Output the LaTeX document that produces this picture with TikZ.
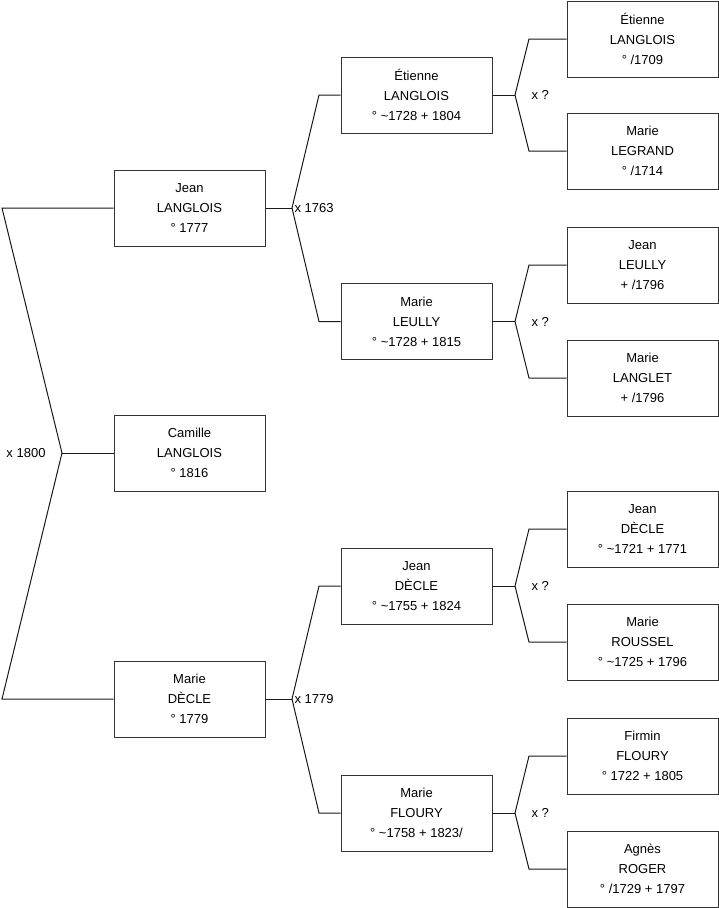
\documentclass[tikz,border=0pt]{standalone}
\usepackage{fontspec}
\setmainfont{Liberation Sans}

\begin{document}
\begin{tikzpicture}[x=1pt, y=-1pt, line width=1pt, line join=miter,
  person/.style={draw=black!80, minimum width=151pt, minimum height=76pt, inner sep=0pt,
                 align=center, font=\fontsize{13}{20}\selectfont},
  union/.style={inner sep=0pt, font=\fontsize{13}{16}\selectfont},
  link/.style={draw=black!90}]

  %% ════ 第 1 代 ════
  \node[person] (camille) at (189.5,453.0) {Camille\\LANGLOIS\\° 1816};

  %% ════ 第 2 代 ════
  \node[person] (jean)  at (189.5,208.0) {Jean\\LANGLOIS\\° 1777};
  \node[person] (marie) at (189.5,699.0) {Marie\\DÈCLE\\° 1779};

  %% ════ 第 3 代 ════
  \node[person] (etienne) at (416.5,95.0)  {Étienne\\LANGLOIS\\° \textasciitilde1728 + 1804};
  \node[person] (leully)  at (416.5,321.5) {Marie\\LEULLY\\° \textasciitilde1728 + 1815};
  \node[person] (jeand)   at (416.5,586.0) {Jean\\DÈCLE\\° \textasciitilde1755 + 1824};
  \node[person] (floury)  at (416.5,813.0) {Marie\\FLOURY\\° \textasciitilde1758 + 1823/};

  %% ════ 第 4 代 ════
  \node[person] (etienneb) at (642.5,39.0)  {Étienne\\LANGLOIS\\° /1709};
  \node[person] (legrand)  at (642.5,151.0) {Marie\\LEGRAND\\° /1714};
  \node[person] (jeanl)    at (642.5,265.0) {Jean\\LEULLY\\+ /1796};
  \node[person] (langlet)  at (642.5,378.0) {Marie\\LANGLET\\+ /1796};
  \node[person] (jeandb)   at (642.5,529.0) {Jean\\DÈCLE\\° \textasciitilde1721 + 1771};
  \node[person] (roussel)  at (642.5,642.0) {Marie\\ROUSSEL\\° \textasciitilde1725 + 1796};
  \node[person] (firmin)   at (642.5,756.0) {Firmin\\FLOURY\\° 1722 + 1805};
  \node[person] (roger)    at (642.5,869.0) {Agnès\\ROGER\\° /1729 + 1797};

  %% ════ 分叉点 ════
  \coordinate (f0) at (62,453);  \coordinate (f0a) at (2,208);   \coordinate (f0b) at (2,699);
  \coordinate (f1) at (292,208); \coordinate (f1a) at (319,95);  \coordinate (f1b) at (319,321.5);
  \coordinate (f2) at (292,699); \coordinate (f2a) at (319,586); \coordinate (f2b) at (319,813);
  \coordinate (f3) at (515,95);  \coordinate (f3a) at (529,39);  \coordinate (f3b) at (529,151);
  \coordinate (f4) at (515,321.5); \coordinate (f4a) at (529,265); \coordinate (f4b) at (529,378);
  \coordinate (f5) at (515,586); \coordinate (f5a) at (529,529); \coordinate (f5b) at (529,642);
  \coordinate (f6) at (515,813); \coordinate (f6a) at (529,756); \coordinate (f6b) at (529,869);

  %% ════ 连线 ════
  \draw[link] (camille.west) -- (f0);
  \draw[link] (jean.west) -- (f0a) -- (f0) -- (f0b) -- (marie.west);
  \draw[link] (jean.east) -- (f1);
  \draw[link] (etienne.west) -- (f1a) -- (f1) -- (f1b) -- (leully.west);
  \draw[link] (marie.east) -- (f2);
  \draw[link] (jeand.west) -- (f2a) -- (f2) -- (f2b) -- (floury.west);
  \draw[link] (etienne.east) -- (f3);
  \draw[link] (etienneb.west) -- (f3a) -- (f3) -- (f3b) -- (legrand.west);
  \draw[link] (leully.east) -- (f4);
  \draw[link] (jeanl.west) -- (f4a) -- (f4) -- (f4b) -- (langlet.west);
  \draw[link] (jeand.east) -- (f5);
  \draw[link] (jeandb.west) -- (f5a) -- (f5) -- (f5b) -- (roussel.west);
  \draw[link] (floury.east) -- (f6);
  \draw[link] (firmin.west) -- (f6a) -- (f6) -- (f6b) -- (roger.west);

  %% ════ 婚姻标签 ════
  \node[union, anchor=east, xshift=-16pt] (m0) at (f0) {x 1800};
  \node[union, anchor=west, xshift=2pt]   (m1) at (f1) {x 1763};
  \node[union, anchor=west, xshift=2pt]   (m2) at (f2) {x 1779};
  \node[union, anchor=west, xshift=16pt]  (m3) at (f3) {x ?};
  \node[union, anchor=west, xshift=16pt]  (m4) at (f4) {x ?};
  \node[union, anchor=west, xshift=16pt]  (m5) at (f5) {x ?};
  \node[union, anchor=west, xshift=16pt]  (m6) at (f6) {x ?};

  % 钉死画布
  \pgfresetboundingbox
  \path[use as bounding box] (0,0) rectangle (719,908);
\end{tikzpicture}
\end{document}
